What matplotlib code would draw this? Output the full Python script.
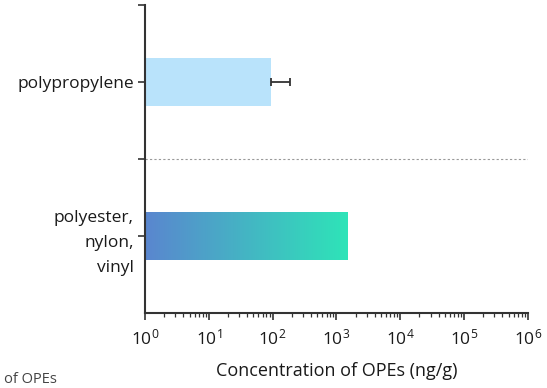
import numpy as np
import matplotlib.pyplot as plt
from matplotlib.ticker import LogLocator, LogFormatterSciNotation, NullFormatter
from matplotlib.colors import LinearSegmentedColormap

plt.rcParams['font.family'] = ['Open Sans', 'DejaVu Sans']
plt.rcParams['mathtext.fontset'] = 'custom'
plt.rcParams['mathtext.rm'] = 'Open Sans'

# data
categories = ['polyester,\nnylon,\nvinyl', 'polypropylene']
values = [1470, 95]
err_upper = [0, 92]

XMIN, XMAX = 1, 1e6
YMIN, YMAX = -0.5, 1.5

fig = plt.figure(figsize=(5.47, 3.88), dpi=100)
ax = fig.add_axes([0.265, 0.193, 0.700, 0.794])

ypos = np.arange(len(categories))
h = 0.31

# polypropylene: plain light-blue bar with one-sided error bar
ax.barh(ypos[1], values[1], height=h, left=XMIN, color='#b9e3fb', edgecolor='none', zorder=2)
ax.errorbar(values[1], ypos[1], xerr=[[0], [err_upper[1]]], fmt='none',
            ecolor='#333333', elinewidth=1.3, capsize=3, capthick=1.3, zorder=3)

# polyester/nylon/vinyl: gradient bar (gradient runs linearly on screen)
bar = ax.barh(ypos[0], values[0], height=h, left=XMIN, color='none', edgecolor='none', zorder=2)[0]
cmap = LinearSegmentedColormap.from_list('grad', ['#5a86cf', '#2ee4b8'])
grad = np.linspace(0, 1, 256).reshape(1, -1)
x1 = (np.log10(values[0]) - np.log10(XMIN)) / (np.log10(XMAX) - np.log10(XMIN))
y0 = (ypos[0] - h / 2 - YMIN) / (YMAX - YMIN)
y1 = (ypos[0] + h / 2 - YMIN) / (YMAX - YMIN)
img = ax.imshow(grad, cmap=cmap, aspect='auto', extent=(0, x1, y0, y1),
                transform=ax.transAxes, zorder=2)
img.set_clip_path(bar)

# dotted separator
ax.axhline(0.5, color='#999999', lw=0.8, ls=(0, (2, 2)), zorder=1)

ax.set_xscale('log')
ax.set_xlim(XMIN, XMAX)
ax.set_ylim(YMIN, YMAX)
ax.xaxis.set_major_locator(LogLocator(base=10, numticks=10))
ax.xaxis.set_major_formatter(LogFormatterSciNotation())
ax.xaxis.set_minor_locator(LogLocator(base=10, subs=np.arange(2, 10), numticks=10))
ax.xaxis.set_minor_formatter(NullFormatter())

ax.set_yticks([0, 0.5, 1, 1.5])
ax.set_yticklabels([categories[0], '', categories[1], ''])

for s in ['top', 'right']:
    ax.spines[s].set_visible(False)
for s in ['left', 'bottom']:
    ax.spines[s].set_linewidth(1.5)
    ax.spines[s].set_color('#333333')

ax.tick_params(axis='both', which='major', length=5, width=1.2, color='#333333',
               labelsize=12.5, labelcolor='#1a1a1a')
ax.tick_params(axis='x', which='minor', length=3, width=0.9, color='#333333')
ax.tick_params(axis='x', which='major', pad=6)
ax.tick_params(axis='y', which='major', pad=3)
for lbl in ax.get_yticklabels():
    lbl.set_linespacing(1.75)
    lbl.set_horizontalalignment('right')

ax.set_xlabel('Concentration of OPEs (ng/g)', fontsize=13, color='#1a1a1a', labelpad=10)

# caption fragment at the bottom edge
fig.text(0.008, 0.012, 'of OPEs', fontsize=10.5, color='#444444', va='baseline', ha='left')

fig.savefig('out.png', dpi=100)
